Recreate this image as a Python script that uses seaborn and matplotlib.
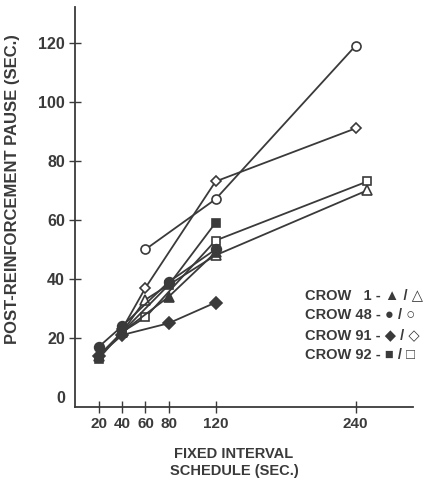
import matplotlib
matplotlib.use("Agg")
import matplotlib.pyplot as plt
import seaborn as sns
import pandas as pd

sns.set_theme(style="ticks")
plt.rcParams["font.family"] = ["Liberation Sans", "DejaVu Sans"]
plt.rcParams["font.weight"] = "bold"

INK = "#3a3a3a"

# filled symbols: FI 20, 40, 80, 120
filled_x = [20, 40, 80, 120]
crow1_filled = [14, 22, 34, 49]
crow48_filled = [17, 24, 39, 50]
crow91_filled = [14, 21, 25, 32]
crow92_filled = [13, 22, 38, 59]

# open symbols
crow1_open_x = [40, 60, 120, 250]
crow1_open = [22, 33, 48, 70]
crow48_open_x = [60, 120, 240]
crow48_open = [50, 67, 119]
crow91_open_x = [40, 60, 120, 240]
crow91_open = [23, 37, 73, 91]
crow92_open_x = [40, 60, 120, 250]
crow92_open = [22, 27, 53, 73]

x_ticks = [20, 40, 60, 80, 120, 240]
y_ticks = [0, 20, 40, 60, 80, 100, 120]

legend_rows = [
    "CROW   1 - \u25B2 / \u25B3",
    "CROW 48 - \u25CF / \u25CB",
    "CROW 91 - \u25C6 / \u25C7",
    "CROW 92 - \u25A0 / \u25A1",
]

series = [
    (filled_x, crow1_filled, "^", True, 7),
    (filled_x, crow48_filled, "o", True, 7),
    (filled_x, crow91_filled, "D", True, 6),
    (filled_x, crow92_filled, "s", True, 6),
    (crow1_open_x, crow1_open, "^", False, 7.5),
    (crow48_open_x, crow48_open, "o", False, 6.5),
    (crow91_open_x, crow91_open, "D", False, 5.5),
    (crow92_open_x, crow92_open, "s", False, 6),
]

fig = plt.figure(figsize=(4.31, 4.84), dpi=100)
ax = fig.add_axes([0.175, 0.159, 0.783, 0.826])

for xs, ys, mk, filled, ms in series:
    df = pd.DataFrame({"x": xs, "y": ys})
    sns.lineplot(data=df, x="x", y="y", ax=ax, estimator=None, sort=False,
                 color=INK, linewidth=1.3, marker=mk, markersize=ms,
                 markerfacecolor=INK if filled else "white",
                 markeredgecolor=INK, markeredgewidth=1.2,
                 zorder=4 if filled else 3)

ax.set_xlim(0, 289)
ax.set_ylim(-3.4, 132)
ax.set_xticks(x_ticks)
ax.set_xticklabels([str(t) for t in x_ticks])
ax.set_yticks(y_ticks)
ax.set_yticklabels([str(t) for t in y_ticks])
ax.tick_params(direction="inout", length=8, width=1, color=INK,
               labelsize=11, labelcolor=INK)
ax.tick_params(axis="y", labelsize=11.5)
ax.yaxis.get_major_ticks()[0].tick1line.set_visible(False)
for lbl in ax.get_xticklabels() + ax.get_yticklabels():
    lbl.set_fontweight("bold")

sns.despine(ax=ax)
for sp in ["left", "bottom"]:
    ax.spines[sp].set_linewidth(1.3)
    ax.spines[sp].set_color(INK)

ax.set_xlabel("FIXED INTERVAL\nSCHEDULE (SEC.)", fontsize=10.5,
              fontweight="bold", color=INK, linespacing=1.3)
ax.set_ylabel("POST-REINFORCEMENT PAUSE (SEC.)", fontsize=12,
              fontweight="bold", color=INK)
ax.xaxis.set_label_coords(0.47, -0.1, transform=ax.transAxes)
ax.yaxis.set_label_coords(-0.165, 0.545, transform=ax.transAxes)

for i, row in enumerate(legend_rows):
    ax.text(0.68, 0.28 - i * 0.05, row, transform=ax.transAxes,
            fontsize=10.5, fontweight="bold", color=INK, va="center")

fig.savefig("out.png", dpi=100)
